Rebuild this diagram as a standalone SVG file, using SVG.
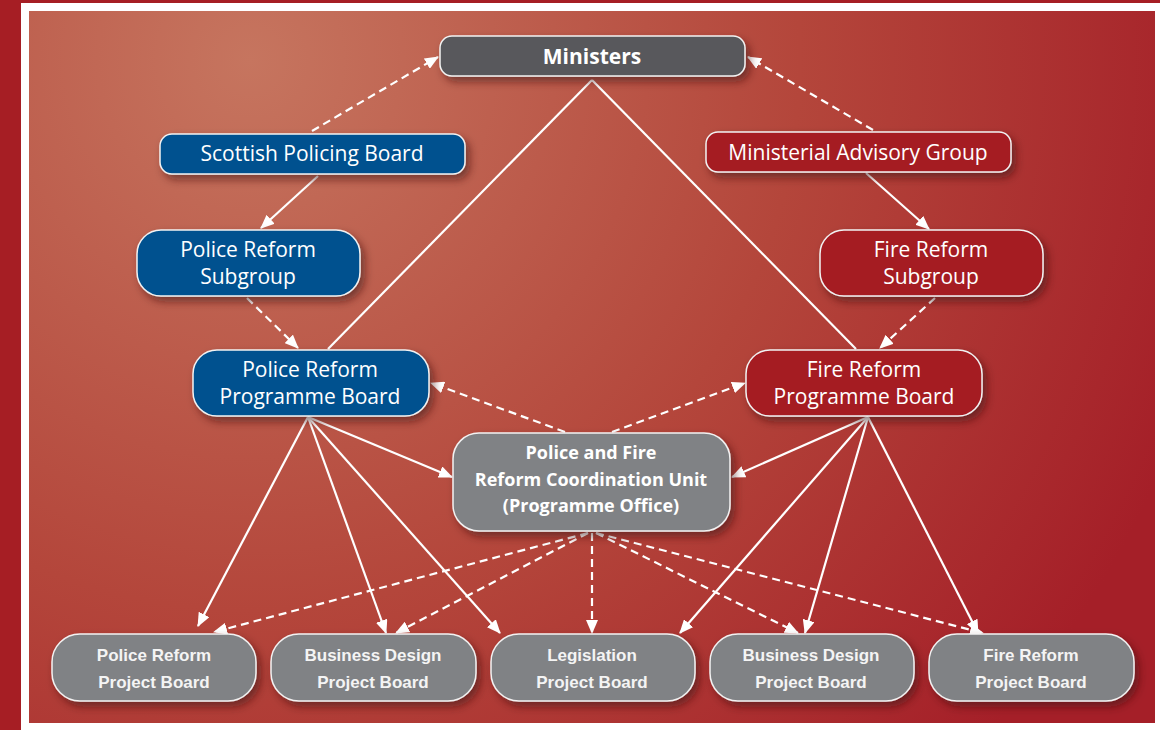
<svg xmlns="http://www.w3.org/2000/svg" width="1160" height="730" viewBox="0 0 1160 730">
<defs>
  <radialGradient id="bg" gradientUnits="userSpaceOnUse" cx="250" cy="60" r="1000">
    <stop offset="0" stop-color="#C6755F"/>
    <stop offset="0.55" stop-color="#B4463B"/>
    <stop offset="1" stop-color="#A51F28"/>
  </radialGradient>
  <filter id="sh" x="-20%" y="-30%" width="140%" height="170%">
    <feDropShadow dx="4" dy="5" stdDeviation="4" flood-color="#3a0a08" flood-opacity="0.55"/>
  </filter>
  <marker id="ah" markerUnits="userSpaceOnUse" markerWidth="14" markerHeight="12" refX="13" refY="6" orient="auto" viewBox="0 0 14 12">
    <path d="M0,0 L14,6 L0,12 z" fill="#ffffff"/>
  </marker>
  <style>
    .node rect { stroke: #f2f2f2; stroke-width: 1.5; filter: url(#sh); }
    .grey rect { fill: #58595B; }
    .blue rect { fill: #00518F; }
    .red rect { fill: #A51B24; }
    .mid rect { fill: #808285; }
    .low rect { fill: #808285; }
    .t { font-family: "Open Sans", "Liberation Sans", sans-serif; font-size: 21px; fill: #ffffff; text-anchor: middle; }
    .tb { font-family: "Open Sans", "Liberation Sans", sans-serif; font-weight: bold; font-size: 18px; fill: #ffffff; text-anchor: middle; }
    .tm { font-family: "Open Sans", "Liberation Sans", sans-serif; font-weight: bold; font-size: 21px; fill: #ffffff; text-anchor: middle; }
    .ts { font-family: "Liberation Sans", Arial, sans-serif; font-weight: bold; font-size: 17px; fill: #f4f4f4; text-anchor: middle; }
    .c line { stroke: #ffffff; stroke-width: 2.2; fill: none; }
    .c .d { stroke-dasharray: 8 5; }
    .c .a { marker-end: url(#ah); }
  </style>
</defs>
<rect x="0" y="0" width="1160" height="730" fill="#A61E24"/>
<rect x="21" y="3" width="1139" height="727" fill="#ffffff"/>
<rect x="29" y="11" width="1126" height="712" fill="url(#bg)"/>

<g id="connectors" class="c">
  <line x1="592" y1="80" x2="328" y2="349"/>
  <line x1="592" y1="80" x2="856" y2="349"/>
  <line class="d a" x1="312" y1="131" x2="438" y2="57"/>
  <line class="d a" x1="873" y1="130" x2="748" y2="57"/>
  <line class="a" x1="318" y1="176" x2="261" y2="228"/>
  <line class="a" x1="866" y1="173" x2="929" y2="229"/>
  <line class="d a" x1="247" y1="298" x2="298" y2="348"/>
  <line class="d a" x1="935" y1="298" x2="880" y2="348"/>
  <line class="d a" x1="565" y1="432" x2="431" y2="383"/>
  <line class="d a" x1="612" y1="432" x2="745" y2="383"/>
  <line class="a" x1="308" y1="417" x2="198" y2="626"/>
  <line class="a" x1="308" y1="417" x2="386" y2="633"/>
  <line class="a" x1="308" y1="417" x2="500" y2="633"/>
  <line class="a" x1="308" y1="417" x2="452" y2="477"/>
  <line class="a" x1="868" y1="417" x2="732" y2="477"/>
  <line class="a" x1="868" y1="417" x2="680" y2="633"/>
  <line class="a" x1="868" y1="417" x2="805" y2="633"/>
  <line class="a" x1="868" y1="417" x2="978" y2="633"/>
  <line class="d a" x1="588" y1="533" x2="214" y2="632"/>
  <line class="d a" x1="588" y1="533" x2="396" y2="633"/>
  <line class="d a" x1="592" y1="533" x2="592" y2="633"/>
  <line class="d a" x1="596" y1="533" x2="798" y2="633"/>
  <line class="d a" x1="596" y1="533" x2="983" y2="633"/>
</g>

<g id="ministers" class="node grey">
  <rect x="440" y="36" width="305" height="40" rx="12"/>
  <text class="tm" x="592" y="64">Ministers</text>
</g>
<g id="scottish-policing-board" class="node blue">
  <rect x="160" y="134" width="305" height="40" rx="12"/>
  <text class="t" x="312" y="161">Scottish Policing Board</text>
</g>
<g id="ministerial-advisory-group" class="node red">
  <rect x="706" y="132" width="305" height="40" rx="12"/>
  <text class="t" x="858" y="160">Ministerial Advisory Group</text>
</g>
<g id="police-reform-subgroup" class="node blue">
  <rect x="137" y="230" width="223" height="66" rx="24"/>
  <text class="t" x="248" y="257">Police Reform</text>
  <text class="t" x="248" y="284">Subgroup</text>
</g>
<g id="fire-reform-subgroup" class="node red">
  <rect x="820" y="230" width="223" height="66" rx="24"/>
  <text class="t" x="931" y="257">Fire Reform</text>
  <text class="t" x="931" y="284">Subgroup</text>
</g>
<g id="police-reform-programme-board" class="node blue">
  <rect x="193" y="350" width="236" height="66" rx="24"/>
  <text class="t" x="310" y="377">Police Reform</text>
  <text class="t" x="310" y="404">Programme Board</text>
</g>
<g id="fire-reform-programme-board" class="node red">
  <rect x="746" y="350" width="236" height="66" rx="24"/>
  <text class="t" x="864" y="377">Fire Reform</text>
  <text class="t" x="864" y="404">Programme Board</text>
</g>
<g id="coordination-unit" class="node mid">
  <rect x="453" y="433" width="277" height="98" rx="26"/>
  <text class="tb" x="591" y="459">Police and Fire</text>
  <text class="tb" x="591" y="486">Reform Coordination Unit</text>
  <text class="tb" x="591" y="512">(Programme Office)</text>
</g>
<g id="police-reform-project-board" class="node low">
  <rect x="52" y="634" width="204" height="67" rx="28"/>
  <text class="ts" x="154" y="661">Police Reform</text>
  <text class="ts" x="154" y="688">Project Board</text>
</g>
<g id="business-design-project-board-1" class="node low">
  <rect x="271" y="634" width="205" height="67" rx="28"/>
  <text class="ts" x="373" y="661">Business Design</text>
  <text class="ts" x="373" y="688">Project Board</text>
</g>
<g id="legislation-project-board" class="node low">
  <rect x="491" y="634" width="204" height="67" rx="28"/>
  <text class="ts" x="592" y="661">Legislation</text>
  <text class="ts" x="592" y="688">Project Board</text>
</g>
<g id="business-design-project-board-2" class="node low">
  <rect x="710" y="634" width="204" height="67" rx="28"/>
  <text class="ts" x="811" y="661">Business Design</text>
  <text class="ts" x="811" y="688">Project Board</text>
</g>
<g id="fire-reform-project-board" class="node low">
  <rect x="929" y="634" width="205" height="67" rx="28"/>
  <text class="ts" x="1031" y="661">Fire Reform</text>
  <text class="ts" x="1031" y="688">Project Board</text>
</g>
</svg>
